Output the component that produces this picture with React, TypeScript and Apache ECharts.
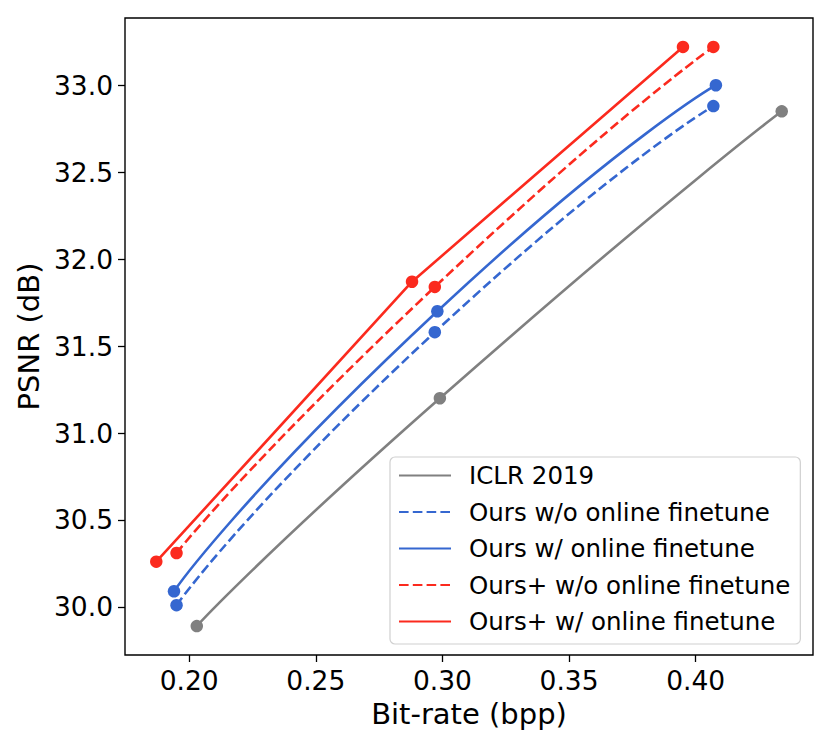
import React, { useEffect, useRef } from "react";
import * as echarts from "echarts";

const seriesNames = [
  "ICLR 2019",
  "Ours w/o online finetune",
  "Ours w/ online finetune",
  "Ours+ w/o online finetune",
  "Ours+ w/ online finetune",
];
const iclrX = [0.203, 0.299, 0.434];
const iclrY = [29.89, 31.2, 32.85];
const oursWoX = [0.195, 0.297, 0.407];
const oursWoY = [30.01, 31.58, 32.88];
const oursWX = [0.194, 0.298, 0.408];
const oursWY = [30.09, 31.7, 33.0];
const plusWoX = [0.195, 0.297, 0.407];
const plusWoY = [30.31, 31.84, 33.22];
const plusWX = [0.187, 0.288, 0.395];
const plusWY = [30.26, 31.87, 33.22];

const xTicks = [0.2, 0.25, 0.3, 0.35, 0.4];
const yTicks = [30.0, 30.5, 31.0, 31.5, 32.0, 32.5, 33.0];

const GRAY = "#808080";
const BLUE = "#3567d0";
const RED = "#fb2a1e";
const FONT = "DejaVu Sans";

function pairs(xs: number[], ys: number[]) {
  return xs.map((x, i) => [x, ys[i]]);
}

export default function App() {
  const ref = useRef<HTMLDivElement>(null);
  useEffect(() => {
    if (!ref.current) return;
    const chart = echarts.init(ref.current, undefined, { renderer: "svg" });
    const allX = [...iclrX, ...oursWoX, ...oursWX, ...plusWoX, ...plusWX];
    const allY = [...iclrY, ...oursWoY, ...oursWY, ...plusWoY, ...plusWY];
    const xmn = Math.min(...allX), xmx = Math.max(...allX);
    const ymn = Math.min(...allY), ymx = Math.max(...allY);
    const xm = (xmx - xmn) * 0.05, ym = (ymx - ymn) * 0.05;

    const mk = (name: string, xs: number[], ys: number[], color: string, dashed: boolean, smooth: number | boolean) => ({
      name,
      type: "line",
      data: pairs(xs, ys),
      smooth,
      symbol: "circle",
      symbolSize: 12.5,
      itemStyle: { color },
      lineStyle: { color, width: 2.6, type: dashed ? [9.6, 4.2] : "solid" },
      emphasis: { disabled: true },
    });

    chart.setOption({
      animation: false,
      grid: {
        left: 125,
        top: 18,
        right: 18,
        bottom: 94,
        show: true,
        borderColor: "#000",
        borderWidth: 1.4,
        backgroundColor: "transparent",
      },
      xAxis: {
        type: "value",
        min: xmn - xm,
        max: xmx + xm,
        name: "Bit-rate (bpp)",
        nameLocation: "middle",
        nameGap: 44,
        nameTextStyle: { fontFamily: FONT, fontSize: 29, color: "#000" },
        axisLine: { show: false },
        splitLine: { show: false },
        axisTick: { show: true, inside: false, length: 7, lineStyle: { color: "#000", width: 1.3 }, customValues: xTicks },
        axisLabel: {
          customValues: xTicks,
          formatter: (v: number) => v.toFixed(2),
          fontFamily: FONT,
          fontSize: 26.5,
          color: "#000",
          margin: 12,
        },
      },
      yAxis: {
        type: "value",
        min: ymn - ym,
        max: ymx + ym,
        name: "PSNR (dB)",
        nameLocation: "middle",
        nameGap: 75,
        nameTextStyle: { fontFamily: FONT, fontSize: 29, color: "#000" },
        axisLine: { show: false },
        splitLine: { show: false },
        axisTick: { show: true, inside: false, length: 7, lineStyle: { color: "#000", width: 1.3 }, customValues: yTicks },
        axisLabel: {
          customValues: yTicks,
          formatter: (v: number) => v.toFixed(1),
          fontFamily: FONT,
          fontSize: 26.5,
          color: "#000",
          margin: 12,
        },
      },
      legend: {
        orient: "vertical",
        left: 390,
        top: 457,
        align: "left",
        itemWidth: 52,
        itemHeight: 14,
        itemGap: 11.5,
        padding: [6, 10, 10, 8],
        borderColor: "#d0d0d0",
        borderWidth: 1.2,
        borderRadius: 5,
        backgroundColor: "rgba(255,255,255,0.85)",
        itemStyle: { opacity: 0 },
        textStyle: { fontFamily: FONT, fontSize: 24.5, color: "#000", padding: [0, 0, 0, 13] },
        data: seriesNames,
      },
      series: [
        mk(seriesNames[0], iclrX, iclrY, GRAY, false, 0.7),
        mk(seriesNames[1], oursWoX, oursWoY, BLUE, true, 0.7),
        mk(seriesNames[2], oursWX, oursWY, BLUE, false, 0.7),
        mk(seriesNames[3], plusWoX, plusWoY, RED, true, 0.7),
        mk(seriesNames[4], plusWX, plusWY, RED, false, false),
      ],
    });
    return () => chart.dispose();
  }, []);
  return (
    <div
      ref={ref}
      style={{ position: "absolute", left: 0, top: 0, width: 831, height: 749 }}
    />
  );
}
